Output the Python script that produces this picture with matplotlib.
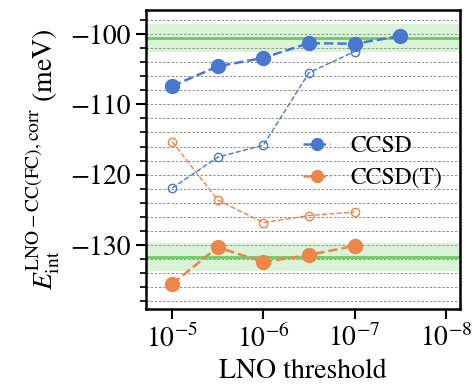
import numpy as np
import matplotlib
matplotlib.use("Agg")
import matplotlib.pyplot as plt
from matplotlib.ticker import MultipleLocator

plt.rcParams['font.family'] = ['STIXGeneral', 'DejaVu Serif']
plt.rcParams['mathtext.fontset'] = 'stix'

# LNO thresholds
thr = [1e-5, 10**-5.5, 1e-6, 10**-6.5, 1e-7, 10**-7.5]

# interaction energies (meV)
ccsd = [-107.4, -104.6, -103.4, -101.3, -101.4, -100.3]
ccsd_t = [-135.5, -130.3, -132.4, -131.4, -130.1]
ccsd_open = [-121.9, -117.5, -115.8, -105.5, -102.5]
ccsd_t_open = [-115.3, -123.6, -126.8, -125.8, -125.3]

# reference values and band half-width
ref_ccsd = -100.6
ref_ccsd_t = -131.7
band = 2.0

blue = '#4878D0'
orange = '#EE854A'
green = '#6ACC64'

fig = plt.figure(figsize=(4.73, 3.85), dpi=100)
ax = fig.add_axes([0.309, 0.197, 0.663, 0.777])

for ref in [ref_ccsd, ref_ccsd_t]:
    ax.axhspan(ref - band, ref + band, color=green, alpha=0.25, lw=0, zorder=1)
    ax.axhline(ref, color=green, lw=2, zorder=2)

ax.plot(thr, ccsd, '--o', color=blue, lw=1.8, ms=10, label='CCSD', zorder=4)
ax.plot(thr[:5], ccsd_t, '--o', color=orange, lw=1.8, ms=10, label='CCSD(T)', zorder=4)
ax.plot(thr[:5], ccsd_open, '--o', color=blue, lw=1, ms=6, mfc='none', mew=1, zorder=3)
ax.plot(thr[:5], ccsd_t_open, '--o', color=orange, lw=1, ms=6, mfc='none', mew=1, zorder=3)

ax.set_xscale('log')
ax.set_xlim(10**-4.714, 10**-8.154)
ax.set_xticks([1e-5, 1e-6, 1e-7, 1e-8])
ax.xaxis.set_minor_locator(matplotlib.ticker.NullLocator())
ax.set_ylim(-139.1, -96.6)
ax.yaxis.set_major_locator(MultipleLocator(10))
ax.yaxis.set_minor_locator(MultipleLocator(2))
ax.grid(which='both', axis='y', ls=(0, (3, 2)), color='gray', lw=0.6, zorder=0)
ax.set_axisbelow(True)

ax.tick_params(labelsize=20, width=1.5)
ax.tick_params(which='major', length=7.5)
ax.tick_params(which='minor', length=4.3, width=1.2)
for s in ax.spines.values():
    s.set_linewidth(1.8)

ax.set_xlabel('LNO threshold', fontsize=20)
ax.set_ylabel(r'$E_{\rm int}^{\rm LNO-CC(FC),corr}$ (meV)', fontsize=20, labelpad=6)

leg = ax.legend(loc='upper left', bbox_to_anchor=(0.6406, 0.648), bbox_transform=fig.transFigure,
                frameon=False, fontsize=17, borderpad=0, borderaxespad=0,
                handlelength=1.15, handletextpad=0.85, labelspacing=0.45, markerscale=0.85)
leg.set_zorder(5)

fig.savefig('out.png', dpi=100)
